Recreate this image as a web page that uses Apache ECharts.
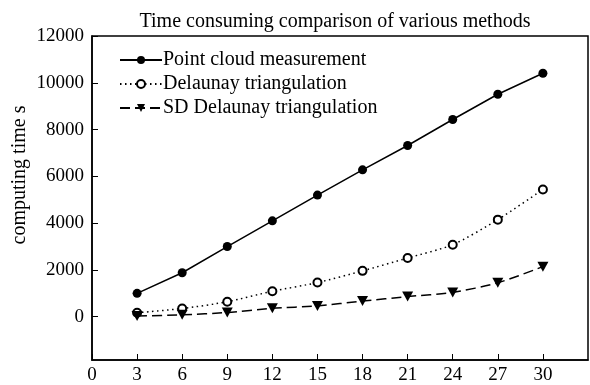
<!DOCTYPE html>
<html><head><meta charset="utf-8">
<script src="https://cdn.jsdelivr.net/npm/echarts@6/dist/echarts.min.js"></script>
<style>html,body{margin:0;padding:0;background:#fff}#c{width:590px;height:385px}</style>
</head><body><div id="c"></div>
<script>
const xValues = [3, 6, 9, 12, 15, 18, 21, 24, 27, 30];
const pointCloud = [1000, 1880, 3000, 4100, 5200, 6280, 7320, 8430, 9510, 10410];
const delaunay = [170, 350, 640, 1090, 1460, 1960, 2510, 3080, 4150, 5440];
const sdDelaunay = [30, 80, 180, 360, 460, 670, 860, 1040, 1450, 2140];
const xTicks = [0, 3, 6, 9, 12, 15, 18, 21, 24, 27, 30];
const yTicks = [0, 2000, 4000, 6000, 8000, 10000, 12000];
const seriesNames = ['Point cloud measurement', 'Delaunay triangulation', 'SD Delaunay triangulation'];

const font = 'Liberation Serif';
const pair = arr => xValues.map((x, i) => [x, arr[i]]);
const chart = echarts.init(document.getElementById('c'), null, {renderer: 'canvas'});
chart.setOption({
  animation: false,
  backgroundColor: '#fff',
  title: {
    text: 'Time consuming comparison of various methods',
    left: 330, top: 7, textAlign: 'center',
    textStyle: {fontFamily: font, fontSize: 20, fontWeight: 'normal', color: '#000'}
  },
  grid: {left: 92, right: 2, top: 36, bottom: 23, show: true, borderColor: '#000', borderWidth: 1.5, backgroundColor: 'transparent'},
  legend: {
    orient: 'vertical', left: 114, top: 45, itemWidth: 42, itemHeight: 10, itemGap: 4,
    textStyle: {fontFamily: font, fontSize: 20, color: '#000', padding: [0,0,0,-4]},
    data: seriesNames
  },
  graphic: [{
    type: 'text', x: 20, y: 175, rotation: Math.PI / 2,
    style: {text: 'computing time s', font: '20px "Liberation Serif"', fill: '#000', align: 'center', verticalAlign: 'middle'}
  }],
  xAxis: {
    type: 'value', min: 0, max: 33,
    axisLine: {onZero: false, lineStyle: {color: '#000', width: 1.5}},
    axisTick: {inside: true, length: 6, customValues: xTicks, lineStyle: {color: '#000'}},
    axisLabel: {customValues: xTicks, fontFamily: font, fontSize: 19, color: '#000', margin: 6, formatter: v => String(v)},
    splitLine: {show: false}
  },
  yAxis: {
    type: 'value', min: -1850, max: 12000,
    axisLine: {show: true, onZero: false, lineStyle: {color: '#000', width: 1.5}},
    axisTick: {show: true, inside: true, length: 6, customValues: yTicks, lineStyle: {color: '#000'}},
    axisLabel: {customValues: yTicks, fontFamily: font, fontSize: 19, color: '#000', margin: 8, formatter: v => String(v)},
    splitLine: {show: false}
  },
  series: [
    {name: seriesNames[0], type: 'line', data: pair(pointCloud), symbol: 'circle', symbolSize: 9,
     itemStyle: {color: '#000'}, lineStyle: {color: '#000', width: 1.5, type: 'solid'}},
    {name: seriesNames[1], type: 'line', data: pair(delaunay), symbol: 'circle', symbolSize: 8, smooth: 0.25,
     itemStyle: {color: '#fff', borderColor: '#000', borderWidth: 2}, lineStyle: {color: '#000', width: 1.5, type: [1.5, 3.5]}},
    {name: seriesNames[2], type: 'line', data: pair(sdDelaunay), symbol: 'triangle', symbolRotate: 180, symbolSize: [11, 10], smooth: 0.25,
     itemStyle: {color: '#000'}, lineStyle: {color: '#000', width: 1.5, type: [10, 5]}}
  ]
});
</script></body></html>
